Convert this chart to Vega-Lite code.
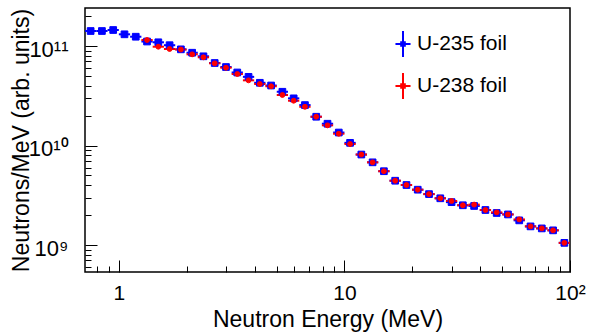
{
  "$schema": "https://vega.github.io/schema/vega-lite/v6.json",
  "width": 485,
  "height": 264,
  "autosize": {"type": "none"},
  "padding": {"left": 85, "top": 8, "right": 28, "bottom": 64},
  "background": "white",
  "config": {"view": {"stroke": "black", "strokeWidth": 1.5}, "font": "Liberation Sans"},
  "datasets": {"spectra": [
    {"foil": "U-235 foil", "e": 0.7499, "lo": 0.70795, "hi": 0.79433, "v": 1.415e11},
    {"foil": "U-235 foil", "e": 0.8414, "lo": 0.79433, "hi": 0.89125, "v": 1.415e11},
    {"foil": "U-235 foil", "e": 0.9441, "lo": 0.89125, "hi": 1.0, "v": 1.448e11},
    {"foil": "U-235 foil", "e": 1.0593, "lo": 1.0, "hi": 1.12202, "v": 1.311e11},
    {"foil": "U-235 foil", "e": 1.1885, "lo": 1.12202, "hi": 1.25893, "v": 1.24e11},
    {"foil": "U-235 foil", "e": 1.3335, "lo": 1.25893, "hi": 1.41254, "v": 1.11e11},
    {"foil": "U-235 foil", "e": 1.4962, "lo": 1.41254, "hi": 1.58489, "v": 1.09e11},
    {"foil": "U-235 foil", "e": 1.6788, "lo": 1.58489, "hi": 1.77828, "v": 1.019e11},
    {"foil": "U-235 foil", "e": 1.8837, "lo": 1.77828, "hi": 1.99526, "v": 9.26e10},
    {"foil": "U-235 foil", "e": 2.1135, "lo": 1.99526, "hi": 2.23872, "v": 8.56e10},
    {"foil": "U-235 foil", "e": 2.3714, "lo": 2.23872, "hi": 2.51189, "v": 7.88e10},
    {"foil": "U-235 foil", "e": 2.6607, "lo": 2.51189, "hi": 2.81838, "v": 6.75e10},
    {"foil": "U-235 foil", "e": 2.9854, "lo": 2.81838, "hi": 3.16228, "v": 6.15e10},
    {"foil": "U-235 foil", "e": 3.3497, "lo": 3.16228, "hi": 3.54813, "v": 5.42e10},
    {"foil": "U-235 foil", "e": 3.7584, "lo": 3.54813, "hi": 3.98107, "v": 4.9e10},
    {"foil": "U-235 foil", "e": 4.217, "lo": 3.98107, "hi": 4.46684, "v": 4.27e10},
    {"foil": "U-235 foil", "e": 4.7315, "lo": 4.46684, "hi": 5.01187, "v": 4.01e10},
    {"foil": "U-235 foil", "e": 5.3088, "lo": 5.01187, "hi": 5.62341, "v": 3.47e10},
    {"foil": "U-235 foil", "e": 5.9566, "lo": 5.62341, "hi": 6.30957, "v": 2.98e10},
    {"foil": "U-235 foil", "e": 6.6834, "lo": 6.30957, "hi": 7.07946, "v": 2.55e10},
    {"foil": "U-235 foil", "e": 7.4989, "lo": 7.07946, "hi": 7.94328, "v": 1.947e10},
    {"foil": "U-235 foil", "e": 8.414, "lo": 7.94328, "hi": 8.91251, "v": 1.656e10},
    {"foil": "U-235 foil", "e": 9.4406, "lo": 8.91251, "hi": 10.0, "v": 1.351e10},
    {"foil": "U-235 foil", "e": 10.593, "lo": 10.0, "hi": 11.2202, "v": 1.064e10},
    {"foil": "U-235 foil", "e": 11.885, "lo": 11.2202, "hi": 12.5893, "v": 8.12e9},
    {"foil": "U-235 foil", "e": 13.335, "lo": 12.5893, "hi": 14.1254, "v": 6.78e9},
    {"foil": "U-235 foil", "e": 14.962, "lo": 14.1254, "hi": 15.8489, "v": 5.52e9},
    {"foil": "U-235 foil", "e": 16.788, "lo": 15.8489, "hi": 17.7828, "v": 4.43e9},
    {"foil": "U-235 foil", "e": 18.837, "lo": 17.7828, "hi": 19.9526, "v": 4.01e9},
    {"foil": "U-235 foil", "e": 21.135, "lo": 19.9526, "hi": 22.3872, "v": 3.6e9},
    {"foil": "U-235 foil", "e": 23.714, "lo": 22.3872, "hi": 25.1189, "v": 3.25e9},
    {"foil": "U-235 foil", "e": 26.607, "lo": 25.1189, "hi": 28.1838, "v": 2.95e9},
    {"foil": "U-235 foil", "e": 29.854, "lo": 28.1838, "hi": 31.6228, "v": 2.7e9},
    {"foil": "U-235 foil", "e": 33.497, "lo": 31.6228, "hi": 35.4813, "v": 2.51e9},
    {"foil": "U-235 foil", "e": 37.584, "lo": 35.4813, "hi": 39.8107, "v": 2.47e9},
    {"foil": "U-235 foil", "e": 42.17, "lo": 39.8107, "hi": 44.6684, "v": 2.25e9},
    {"foil": "U-235 foil", "e": 47.315, "lo": 44.6684, "hi": 50.1187, "v": 2.1e9},
    {"foil": "U-235 foil", "e": 53.088, "lo": 50.1187, "hi": 56.2341, "v": 2.03e9},
    {"foil": "U-235 foil", "e": 59.566, "lo": 56.2341, "hi": 63.0957, "v": 1.77e9},
    {"foil": "U-235 foil", "e": 66.834, "lo": 63.0957, "hi": 70.7946, "v": 1.54e9},
    {"foil": "U-235 foil", "e": 74.989, "lo": 70.7946, "hi": 79.4328, "v": 1.47e9},
    {"foil": "U-235 foil", "e": 84.14, "lo": 79.4328, "hi": 89.1251, "v": 1.405e9},
    {"foil": "U-235 foil", "e": 94.406, "lo": 89.1251, "hi": 100.0, "v": 1.052e9},
    {"foil": "U-238 foil", "e": 1.3335, "lo": 1.25893, "hi": 1.41254, "v": 1.149e11},
    {"foil": "U-238 foil", "e": 1.4962, "lo": 1.41254, "hi": 1.58489, "v": 9.84e10},
    {"foil": "U-238 foil", "e": 1.6788, "lo": 1.58489, "hi": 1.77828, "v": 9.33e10},
    {"foil": "U-238 foil", "e": 1.8837, "lo": 1.77828, "hi": 1.99526, "v": 9.22e10},
    {"foil": "U-238 foil", "e": 2.1135, "lo": 1.99526, "hi": 2.23872, "v": 8.25e10},
    {"foil": "U-238 foil", "e": 2.3714, "lo": 2.23872, "hi": 2.51189, "v": 7.7e10},
    {"foil": "U-238 foil", "e": 2.6607, "lo": 2.51189, "hi": 2.81838, "v": 6.7e10},
    {"foil": "U-238 foil", "e": 2.9854, "lo": 2.81838, "hi": 3.16228, "v": 6.05e10},
    {"foil": "U-238 foil", "e": 3.3497, "lo": 3.16228, "hi": 3.54813, "v": 5.23e10},
    {"foil": "U-238 foil", "e": 3.7584, "lo": 3.54813, "hi": 3.98107, "v": 4.52e10},
    {"foil": "U-238 foil", "e": 4.217, "lo": 3.98107, "hi": 4.46684, "v": 4.15e10},
    {"foil": "U-238 foil", "e": 4.7315, "lo": 4.46684, "hi": 5.01187, "v": 3.94e10},
    {"foil": "U-238 foil", "e": 5.3088, "lo": 5.01187, "hi": 5.62341, "v": 3.22e10},
    {"foil": "U-238 foil", "e": 5.9566, "lo": 5.62341, "hi": 6.30957, "v": 2.82e10},
    {"foil": "U-238 foil", "e": 6.6834, "lo": 6.30957, "hi": 7.07946, "v": 2.45e10},
    {"foil": "U-238 foil", "e": 7.4989, "lo": 7.07946, "hi": 7.94328, "v": 1.947e10},
    {"foil": "U-238 foil", "e": 8.414, "lo": 7.94328, "hi": 8.91251, "v": 1.596e10},
    {"foil": "U-238 foil", "e": 9.4406, "lo": 8.91251, "hi": 10.0, "v": 1.314e10},
    {"foil": "U-238 foil", "e": 10.593, "lo": 10.0, "hi": 11.2202, "v": 1.035e10},
    {"foil": "U-238 foil", "e": 11.885, "lo": 11.2202, "hi": 12.5893, "v": 8.12e9},
    {"foil": "U-238 foil", "e": 13.335, "lo": 12.5893, "hi": 14.1254, "v": 6.78e9},
    {"foil": "U-238 foil", "e": 14.962, "lo": 14.1254, "hi": 15.8489, "v": 5.52e9},
    {"foil": "U-238 foil", "e": 16.788, "lo": 15.8489, "hi": 17.7828, "v": 4.43e9},
    {"foil": "U-238 foil", "e": 18.837, "lo": 17.7828, "hi": 19.9526, "v": 4.01e9},
    {"foil": "U-238 foil", "e": 21.135, "lo": 19.9526, "hi": 22.3872, "v": 3.6e9},
    {"foil": "U-238 foil", "e": 23.714, "lo": 22.3872, "hi": 25.1189, "v": 3.25e9},
    {"foil": "U-238 foil", "e": 26.607, "lo": 25.1189, "hi": 28.1838, "v": 2.95e9},
    {"foil": "U-238 foil", "e": 29.854, "lo": 28.1838, "hi": 31.6228, "v": 2.77e9},
    {"foil": "U-238 foil", "e": 33.497, "lo": 31.6228, "hi": 35.4813, "v": 2.51e9},
    {"foil": "U-238 foil", "e": 37.584, "lo": 35.4813, "hi": 39.8107, "v": 2.55e9},
    {"foil": "U-238 foil", "e": 42.17, "lo": 39.8107, "hi": 44.6684, "v": 2.25e9},
    {"foil": "U-238 foil", "e": 47.315, "lo": 44.6684, "hi": 50.1187, "v": 2.13e9},
    {"foil": "U-238 foil", "e": 53.088, "lo": 50.1187, "hi": 56.2341, "v": 2.03e9},
    {"foil": "U-238 foil", "e": 59.566, "lo": 56.2341, "hi": 63.0957, "v": 1.81e9},
    {"foil": "U-238 foil", "e": 66.834, "lo": 63.0957, "hi": 70.7946, "v": 1.54e9},
    {"foil": "U-238 foil", "e": 74.989, "lo": 70.7946, "hi": 79.4328, "v": 1.47e9},
    {"foil": "U-238 foil", "e": 84.14, "lo": 79.4328, "hi": 89.1251, "v": 1.405e9},
    {"foil": "U-238 foil", "e": 94.406, "lo": 89.1251, "hi": 100.0, "v": 1.052e9}
  ]},
  "data": {"name": "spectra"},
  "resolve": {"axis": {"x": "independent", "y": "independent"}},
  "encoding": {
    "stroke": {
      "field": "foil", "type": "nominal",
      "scale": {"domain": ["U-235 foil", "U-238 foil"], "range": ["#0000ff", "#ff0000"]},
      "legend": {
        "title": null, "orient": "none", "legendX": 304, "legendY": 22,
        "symbolType": "M0,-1V1M-0.58,0H0.58M-0.14,-0.14H0.14V0.14H-0.14Z",
        "symbolSize": 676, "symbolStrokeWidth": 2,
        "labelFontSize": 21, "labelColor": "black", "labelFont": "Liberation Sans",
        "rowPadding": 8, "labelOffset": 0, "padding": 0
      }
    },
    "fill": {
      "field": "foil", "type": "nominal",
      "scale": {"domain": ["U-235 foil", "U-238 foil"], "range": ["#0000ff", "#ff0000"]},
      "legend": {
        "title": null, "orient": "none", "legendX": 304, "legendY": 22,
        "symbolType": "M0,-1V1M-0.58,0H0.58M-0.14,-0.14H0.14V0.14H-0.14Z",
        "symbolSize": 676, "symbolStrokeWidth": 2,
        "labelFontSize": 21, "labelColor": "black", "labelFont": "Liberation Sans",
        "rowPadding": 8, "labelOffset": 0, "padding": 0
      }
    }
  },
  "layer": [
    {
      "mark": {"type": "rule", "strokeWidth": 2},
      "encoding": {
        "x": {
          "field": "lo", "type": "quantitative",
          "scale": {"type": "log", "domain": [0.70795, 100], "nice": false},
          "axis": {
            "orient": "bottom", "offset": -12,
            "title": "Neutron Energy (MeV)",
            "titleFontSize": 23, "titleFontWeight": "normal", "titleColor": "black",
            "titleFont": "Liberation Sans",
            "titleX": 242.5, "titleY": 66, "titleBaseline": "alphabetic", "titleAlign": "center",
            "values": [1, 10, 100],
            "labelExpr": "datum.value == 1 ? '1' : datum.value == 10 ? '10' : '10²'",
            "labelFontSize": 21, "labelColor": "black", "labelFont": "Liberation Sans",
            "labelPadding": 10, "labelFlush": false,
            "tickSize": 12, "tickColor": "black", "tickWidth": 1,
            "domain": false, "grid": false
          }
        },
        "x2": {"field": "hi"},
        "y": {
          "field": "v", "type": "quantitative",
          "scale": {"type": "log", "domain": [5.36e8, 2.41e11], "nice": false},
          "axis": {
            "orient": "left", "offset": -12,
            "title": "Neutrons/MeV (arb. units)",
            "titleFontSize": 23, "titleFontWeight": "normal", "titleColor": "black",
            "titleFont": "Liberation Sans",
            "titleX": -76, "titleY": 132, "titleAngle": -90, "titleBaseline": "middle", "titleAlign": "center",
            "values": [1e9, 1e10, 1e11],
            "labelExpr": "datum.value == 1e9 ? '10⁹' : datum.value == 1e10 ? '10¹⁰' : '10¹¹'",
            "labelFontSize": 22, "labelColor": "black", "labelFont": "Liberation Sans",
            "labelPadding": 17, "labelOffset": 3,
            "tickSize": 12, "tickColor": "black", "tickWidth": 1,
            "domain": false, "grid": false
          }
        }
      }
    },
    {
      "transform": [{"filter": "datum.foil == 'U-235 foil'"}],
      "mark": {"type": "point", "shape": "square", "filled": true, "opacity": 1, "size": 45, "strokeWidth": 1},
      "encoding": {
        "x": {
          "field": "e", "type": "quantitative",
          "axis": {
            "orient": "bottom", "offset": -6, "title": null, "labels": false,
            "values": [0.8, 0.9, 2, 3, 4, 5, 6, 7, 8, 9, 20, 30, 40, 50, 60, 70, 80, 90],
            "tickSize": 6, "tickColor": "black", "tickWidth": 1,
            "domain": false, "grid": false
          }
        },
        "y": {
          "field": "v", "type": "quantitative",
          "axis": {
            "orient": "left", "offset": -6, "title": null, "labels": false,
            "values": [6e8, 7e8, 8e8, 9e8, 2e9, 3e9, 4e9, 5e9, 6e9, 7e9, 8e9, 9e9, 2e10, 3e10, 4e10, 5e10, 6e10, 7e10, 8e10, 9e10, 2e11],
            "tickSize": 6, "tickColor": "black", "tickWidth": 1,
            "domain": false, "grid": false
          }
        }
      }
    },
    {
      "transform": [{"filter": "datum.foil == 'U-238 foil'"}],
      "mark": {"type": "point", "shape": "circle", "filled": true, "opacity": 1, "size": 24, "strokeWidth": 1},
      "encoding": {
        "x": {"field": "e", "type": "quantitative", "axis": null},
        "y": {"field": "v", "type": "quantitative", "axis": null}
      }
    }
  ]
}
